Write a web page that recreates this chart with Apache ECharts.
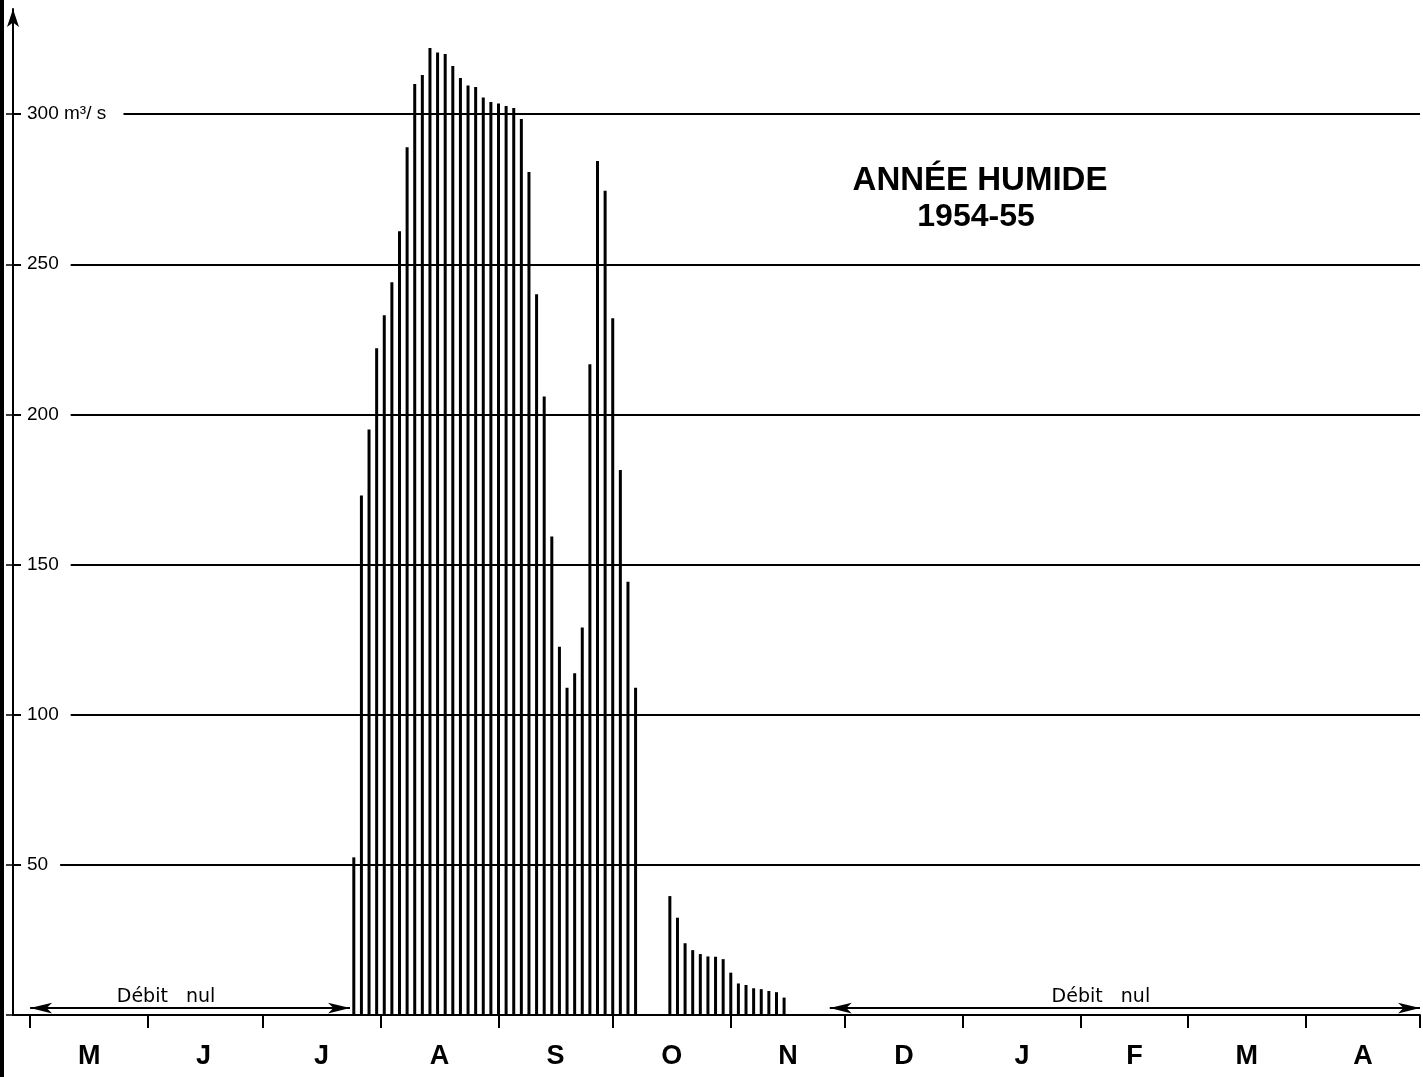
<!DOCTYPE html>
<html>
<head>
<meta charset="utf-8">
<script src="https://cdn.jsdelivr.net/npm/echarts@6/dist/echarts.min.js"></script>
<style>
html,body{margin:0;padding:0;background:#fff;}
#chart{width:1423px;height:1077px;}
</style>
</head>
<body>
<div id="chart"></div>
<script>
// ---- Data ----
const monthLetters = ['M','J','J','A','S','O','N','D','J','F','M','A'];
// day index (from 1 May) of month boundaries and of mid-months
const monthStarts = [0,31,61,92,123,153,184,214,245,276,304,335,365];
const monthMids = [15.5,45.5,76.5,107.5,138,168.5,199,229.5,260.5,290,319.5,350];
const yTickValues = [0,50,100,150,200,250,300];
const yLabelValues = [50,100,150,200,250,300];

// Flood 1 (late July – early October), one value every 2 days, m3/s
const flowDaysA = [85,87,89,91,93,95,97,99,101,103,105,107,109,111,113,115,117,119,121,123,
                   125,127,129,131,133,135,137,139,141,143,145,147,149,151,153,155,157,159];
const flowValuesA = [52.5,173,195,222,233,244,261,289,310,313,322,320.5,320,316,312,309.5,309,305.5,304,303.5,
                     302.7,302,298.4,280.7,240,206,159.3,122.6,109,113.8,129,216.7,284.4,274.5,232,181.5,144.3,109];
// Recession (mid October – mid November)
const flowDaysB = [168,170,172,174,176,178,180,182,184,186,188,190,192,194,196,198];
const flowValuesB = [39.6,32.4,23.9,21.6,20.3,19.5,19.4,18.6,14.1,10.5,10,8.9,8.6,8,7.6,5.8];

// Periods of zero flow (days from 1 May)
const zeroFlowPeriods = [[0,84],[210,365]];
const zeroFlowLabel = 'Débit   nul';
const titleLines = ['ANNÉE HUMIDE','1954-55'];

// ---- Build ----
const barData = flowDaysA.map((d,i)=>[d, flowValuesA[i]]).concat(flowDaysB.map((d,i)=>[d, flowValuesB[i]]));
const zeroY = 2.3;

const chart = echarts.init(document.getElementById('chart'), null, {renderer:'canvas'});
const option = {
  animation: false,
  backgroundColor: '#ffffff',
  grid: {left: 13, right: 3, top: 9, bottom: 62, containLabel: false},
  xAxis: {
    type: 'value', min: -4.5, max: 365,
    axisLine: {show: true, onZero: false, lineStyle: {color: '#000', width: 2}},
    axisTick: {show: true, customValues: monthStarts, length: 13, inside: false, lineStyle: {color: '#000', width: 2}},
    axisLabel: {
      show: true, customValues: monthMids, margin: 28,
      formatter: v => { const i = monthMids.indexOf(v); return i >= 0 ? monthLetters[i] : ''; },
      fontFamily: 'Liberation Sans', fontWeight: 'bold', fontSize: 27, color: '#000'
    },
    splitLine: {show: false}
  },
  yAxis: {
    type: 'value', min: 0, max: 335, interval: 50,
    axisLine: {show: true, onZero: false, symbol: ['none','arrow'], symbolSize: [9,18], symbolOffset: [0,0], lineStyle: {color: '#000', width: 2}},
    axisTick: {show: true, customValues: yTickValues, length: 7, lineStyle: {color: '#000', width: 1.5}},
    axisLabel: {
      show: true, inside: true, margin: 8, customValues: yLabelValues,
      formatter: v => v === 300 ? '300 m³/ s ' : String(v),
      fontFamily: 'Liberation Sans', fontSize: 19, color: '#000',
      backgroundColor: '#fff', padding: [3, 12, 1, 6]
    },
    splitLine: {show: true, lineStyle: {color: '#000', width: 1.8}}
  },
  graphic: [
    {type: 'rect', shape: {x: 0, y: 0, width: 4, height: 1077}, style: {fill: '#000'}, z: 100},
    {type: 'text', style: {text: titleLines[0], x: 980, y: 181, textAlign: 'center', textVerticalAlign: 'middle',
      font: 'bold 33px "Liberation Sans"', fill: '#000'}, z: 100},
    {type: 'text', style: {text: titleLines[1], x: 976, y: 217, textAlign: 'center', textVerticalAlign: 'middle',
      font: 'bold 32px "Liberation Sans"', fill: '#000'}, z: 100}
  ],
  series: [
    {
      name: 'Débit', type: 'bar', data: barData, barWidth: 3,
      itemStyle: {color: '#000'}, z: 3
    },
    {
      name: 'Débit nul', type: 'line', data: [], silent: true,
      markLine: {
        silent: true,
        symbol: ['arrow','arrow'], symbolSize: [8,22],
        lineStyle: {color: '#000', width: 2, type: 'solid'},
        label: {show: true, position: 'middle', formatter: zeroFlowLabel, fontFamily: 'DejaVu Sans', fontSize: 19,
          color: '#000', distance: 2, offset: [-24, 0]},
        data: zeroFlowPeriods.map(p => [{coord: [p[0], zeroY]}, {coord: [p[1], zeroY]}])
      }
    }
  ]
};
chart.setOption(option);
</script>
</body>
</html>
